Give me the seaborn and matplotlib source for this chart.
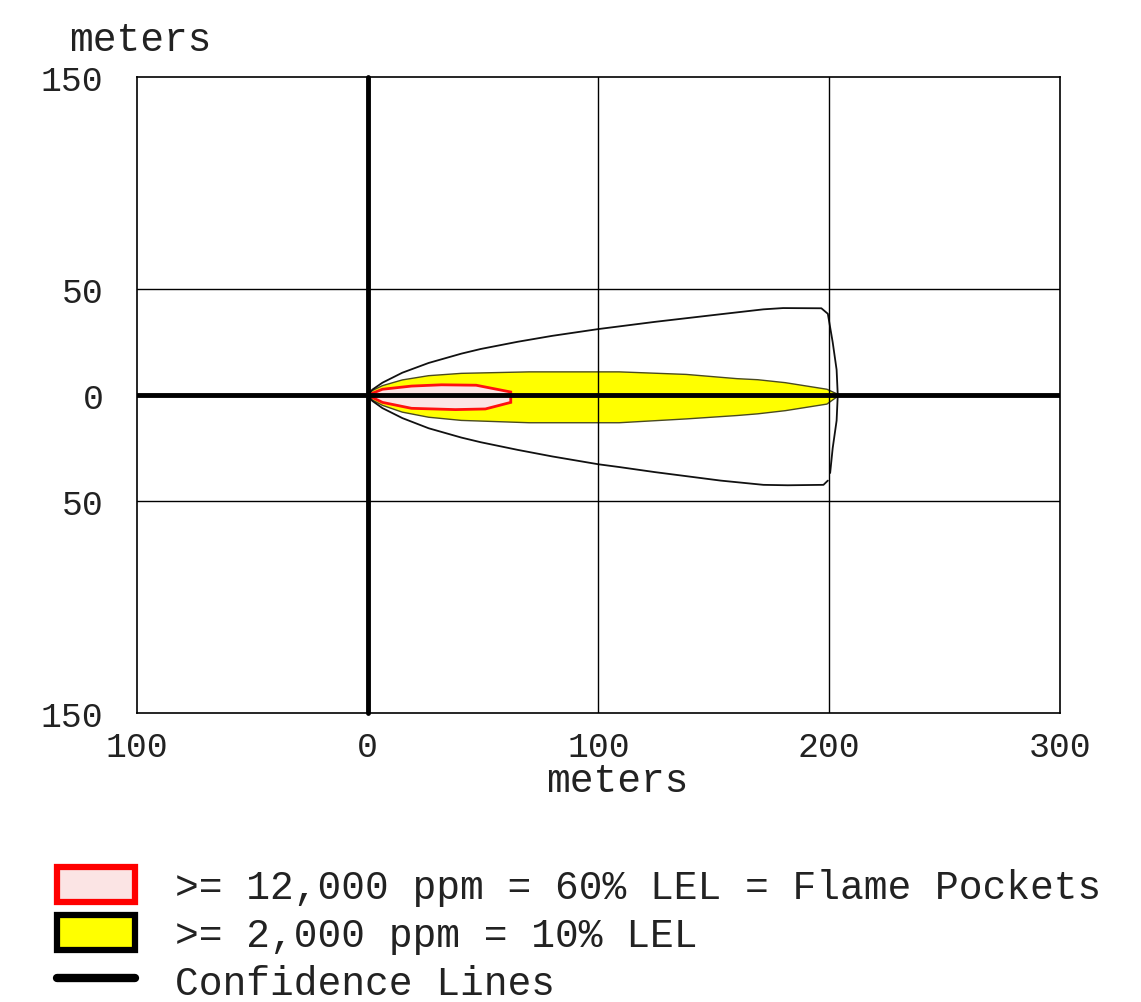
import numpy as np
import pandas as pd
import matplotlib
matplotlib.use('Agg')
import matplotlib.pyplot as plt
import seaborn as sns
from matplotlib.patches import Patch
from matplotlib.lines import Line2D

# Threat zone outlines (meters)
yellow_x = [0, 2, 6.4, 15, 26.4, 40.6, 70, 109, 138, 160, 169, 181, 199, 204]
yellow_top = [0, 2.2, 4.5, 7.2, 9.2, 10.3, 11, 11, 9.8, 7.8, 7.3, 5.9, 2.8, 0.3]
yellow_bot = [0, -2.3, -4.8, -8, -10.4, -11.9, -13, -13, -11.2, -9.6, -8.8, -7.3, -4.2, -0.3]

red_x = [0, 6.4, 19, 32, 47, 62, 62, 51, 38, 19, 6.4, 0]
red_y = [0, 2.8, 4.3, 4.9, 4.7, 1.5, -3.4, -6.5, -6.8, -6.2, -3.4, 0]

# confidence lines: upper part + end arc, then lower part (small gap between)
conf_upper_x = [0, 2, 6.4, 15, 26.4, 40.6, 49, 65, 80, 100, 124.5, 153, 171.5, 180,
                196.6, 199.4, 201.5, 203.2, 203.7, 203.2, 201.5, 200.4]
conf_upper_y = [0, 2.6, 5.9, 10.6, 15.2, 19.6, 21.8, 25.2, 28.0, 31.2, 34.6, 38.2, 40.5, 41.1,
                41.0, 38.4, 25, 12, 0, -12, -25, -36.7]
conf_lower_x = [199.4, 197.5, 182, 171.5, 153, 124.5, 109, 100, 80, 65, 49, 40.6, 26.4,
                15, 6.4, 2, 0]
conf_lower_y = [-40.3, -42.3, -42.5, -42.3, -40.3, -36.3, -33.9, -32.6, -28.9, -25.8, -22.2,
                -20, -15.6, -10.8, -6.1, -2.7, 0]

x_ticks = [-100, 0, 100, 200, 300]
x_labels = ['100', '0', '100', '200', '300']
y_ticks = [150, 50, 0, -50, -150]
y_labels = ['150', '50', '0', '50', '150']

legend_labels = ['>= 12,000 ppm = 60% LEL = Flame Pockets',
                 '>= 2,000 ppm = 10% LEL',
                 'Confidence Lines']

sns.set_style('white')
plt.rcParams['font.family'] = ['Liberation Mono', 'DejaVu Sans']

fig = plt.figure(figsize=(11.41, 10.03), dpi=100)
ax = fig.add_axes([0.120, 0.288, 0.809, 0.634])

# zones
ax.fill(yellow_x + yellow_x[::-1], yellow_top + yellow_bot[::-1],
        facecolor='#ffff00', edgecolor='#4a4a20', linewidth=1.0, zorder=2)
ax.fill(red_x, red_y, facecolor='#fbe4e4', edgecolor='#ff1010', linewidth=2.0, zorder=3)

# confidence lines
conf_up = pd.DataFrame({'x': conf_upper_x, 'y': conf_upper_y})
conf_lo = pd.DataFrame({'x': conf_lower_x, 'y': conf_lower_y})
sns.lineplot(data=conf_up, x='x', y='y', sort=False, estimator=None,
             color='#111111', linewidth=1.3, ax=ax, zorder=4)
sns.lineplot(data=conf_lo, x='x', y='y', sort=False, estimator=None,
             color='#111111', linewidth=1.3, ax=ax, zorder=4)

# grid lines and thick axes through the source
for gx in [100, 200]:
    ax.axvline(gx, color='black', linewidth=1.0, zorder=5)
for gy in [50, -50]:
    ax.axhline(gy, color='black', linewidth=1.0, zorder=5)
ax.axhline(0, color='black', linewidth=3.5, zorder=6)
ax.axvline(0, color='black', linewidth=3.5, zorder=6, clip_on=False)

ax.set_xlim(-100, 300)
ax.set_ylim(-150, 150)
ax.set_xticks(x_ticks)
ax.set_xticklabels(x_labels)
ax.set_yticks(y_ticks)
ax.set_yticklabels(y_labels)
ax.tick_params(axis='both', length=0, labelsize=25, labelcolor='#222222')
ax.tick_params(axis='y', pad=24)
ax.tick_params(axis='x', pad=12)
for s in ax.spines.values():
    s.set_color('black')
    s.set_linewidth(1.2)

ax.set_xlabel('meters', fontsize=28.5, color='#222222')
ax.xaxis.set_label_coords(0.52, -0.075)
ax.set_ylabel('meters', fontsize=28.5, color='#222222', rotation=0, ha='left', va='center')
ax.yaxis.set_label_coords(-0.073, 1.06)

handles = [Patch(facecolor='#fbe4e4', edgecolor='#ff0000', linewidth=4.5),
           Patch(facecolor='#ffff00', edgecolor='black', linewidth=4.5),
           Line2D([0], [0], color='black', linewidth=6)]
fig.legend(handles, legend_labels, loc='upper left', bbox_to_anchor=(0.05, 0.135),
           frameon=False, fontsize=28.5, handlelength=1.97, handleheight=1.0,
           handletextpad=1.0, labelspacing=0.22, borderpad=0, borderaxespad=0,
           labelcolor='#222222')

fig.savefig('out.png', dpi=100)
